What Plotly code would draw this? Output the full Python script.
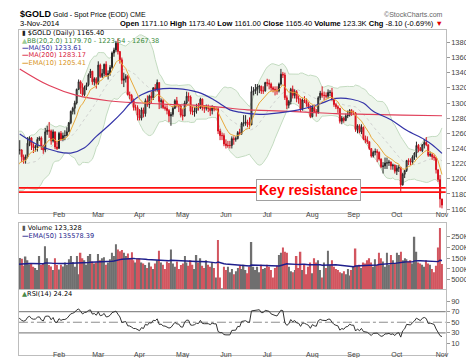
import numpy as np
import pandas as pd
import plotly.graph_objects as go

# ---------------- data ----------------
dates = pd.bdate_range("2014-01-02", "2014-11-03")

dec2013_close = [1221, 1244, 1241, 1227, 1230, 1250, 1261, 1255, 1225, 1235, 1241,
                 1230, 1217, 1193, 1203, 1196, 1204, 1211, 1214, 1203, 1202]

close_jan = [1225, 1238, 1238, 1229, 1225, 1229, 1247, 1254, 1244, 1241, 1242, 1252, 1254, 1242, 1238, 1262, 1264, 1263, 1250, 1262, 1242, 1240]
close_feb = [1260, 1252, 1257, 1257, 1262, 1274, 1289, 1293, 1300, 1318, 1328, 1320, 1311, 1321, 1324, 1337, 1342, 1328, 1332, 1326]
close_mar = [1350, 1335, 1339, 1351, 1337, 1339, 1347, 1366, 1370, 1379, 1368, 1357, 1330, 1332, 1335, 1311, 1310, 1303, 1294, 1294, 1284]
close_apr = [1280, 1291, 1286, 1303, 1298, 1309, 1307, 1320, 1318, 1327, 1302, 1303, 1294, 1293, 1290, 1283, 1285, 1293, 1303, 1297, 1296, 1284]
close_may = [1283, 1300, 1309, 1308, 1289, 1288, 1290, 1295, 1294, 1305, 1294, 1293, 1294, 1293, 1290, 1294, 1292, 1292, 1263, 1257, 1257, 1246]
close_jun = [1244, 1244, 1244, 1253, 1252, 1253, 1261, 1260, 1273, 1274, 1275, 1272, 1271, 1315, 1316, 1318, 1321, 1322, 1316, 1316, 1327]
close_jul = [1326, 1325, 1320, 1318, 1317, 1316, 1325, 1338, 1337, 1307, 1297, 1302, 1318, 1310, 1315, 1306, 1305, 1292, 1304, 1303, 1299, 1295, 1282]
close_aug = [1294, 1289, 1287, 1307, 1313, 1310, 1310, 1309, 1314, 1314, 1305, 1298, 1295, 1293, 1276, 1280, 1277, 1283, 1284, 1290, 1287]
close_sep = [1287, 1265, 1270, 1262, 1268, 1253, 1251, 1249, 1240, 1230, 1235, 1236, 1235, 1226, 1216, 1217, 1221, 1221, 1222, 1217, 1218, 1210]
close_oct = [1214, 1215, 1192, 1206, 1211, 1224, 1223, 1222, 1229, 1234, 1244, 1240, 1237, 1245, 1248, 1245, 1231, 1232, 1229, 1228, 1212, 1199, 1173.5]
close_nov = [1165.4]

high_jan = [1240, 1248, 1251, 1239, 1232, 1232, 1255, 1256, 1255, 1247, 1245, 1255, 1256, 1256, 1245, 1267, 1270, 1275, 1265, 1265, 1262, 1250]
high_feb = [1262, 1263, 1261, 1264, 1268, 1275, 1290, 1295, 1303, 1319, 1331, 1330, 1326, 1323, 1327, 1339, 1345, 1342, 1334, 1334]
high_mar = [1355, 1352, 1345, 1352, 1355, 1343, 1350, 1368, 1373, 1382, 1385, 1364, 1360, 1340, 1338, 1337, 1315, 1312, 1306, 1298, 1297]
high_apr = [1292, 1294, 1294, 1306, 1310, 1311, 1315, 1321, 1325, 1331, 1327, 1306, 1305, 1297, 1297, 1292, 1288, 1296, 1305, 1308, 1299, 1298]
high_may = [1292, 1303, 1315, 1314, 1310, 1296, 1295, 1299, 1300, 1307, 1306, 1296, 1298, 1298, 1295, 1297, 1296, 1294, 1294, 1266, 1261, 1260]
high_jun = [1252, 1250, 1250, 1256, 1256, 1256, 1263, 1266, 1275, 1284, 1284, 1278, 1281, 1322, 1321, 1325, 1325, 1324, 1323, 1322, 1328]
high_jul = [1332, 1331, 1327, 1322, 1322, 1322, 1327, 1345, 1341, 1340, 1310, 1304, 1320, 1323, 1318, 1317, 1310, 1306, 1306, 1309, 1306, 1301, 1297]
high_aug = [1297, 1298, 1292, 1309, 1316, 1322, 1315, 1314, 1318, 1317, 1320, 1307, 1300, 1297, 1293, 1283, 1282, 1286, 1290, 1292, 1292]
high_sep = [1290, 1288, 1272, 1272, 1272, 1269, 1257, 1256, 1249, 1240, 1237, 1240, 1239, 1236, 1227, 1222, 1228, 1228, 1225, 1223, 1220, 1219]
high_oct = [1218, 1218, 1216, 1208, 1211, 1225, 1227, 1227, 1231, 1235, 1249, 1246, 1242, 1246, 1252, 1255, 1244, 1236, 1234, 1232, 1229, 1211, 1205]
high_nov = [1173.4]

low_jan = [1202, 1224, 1232, 1222, 1220, 1220, 1227, 1243, 1238, 1234, 1236, 1236, 1250, 1238, 1233, 1235, 1258, 1254, 1245, 1248, 1239, 1238]
low_feb = [1240, 1250, 1250, 1251, 1256, 1262, 1272, 1285, 1285, 1298, 1317, 1312, 1309, 1309, 1317, 1322, 1333, 1324, 1323, 1319]
low_mar = [1324, 1333, 1333, 1335, 1335, 1331, 1336, 1345, 1361, 1367, 1364, 1352, 1325, 1321, 1327, 1310, 1305, 1300, 1290, 1290, 1277]
low_apr = [1277, 1277, 1281, 1282, 1295, 1293, 1300, 1304, 1315, 1315, 1292, 1293, 1292, 1290, 1285, 1275, 1270, 1282, 1292, 1294, 1288, 1281]
low_may = [1277, 1282, 1298, 1302, 1285, 1284, 1282, 1286, 1290, 1292, 1290, 1287, 1290, 1288, 1283, 1285, 1289, 1290, 1259, 1251, 1251, 1243]
low_jun = [1240, 1241, 1240, 1240, 1245, 1249, 1252, 1258, 1258, 1269, 1270, 1268, 1266, 1273, 1310, 1312, 1310, 1313, 1312, 1312, 1315]
low_jul = [1322, 1318, 1316, 1314, 1310, 1311, 1314, 1323, 1333, 1304, 1292, 1293, 1298, 1306, 1306, 1301, 1299, 1288, 1290, 1300, 1295, 1292, 1280]
low_aug = [1281, 1287, 1282, 1286, 1304, 1307, 1304, 1306, 1306, 1309, 1303, 1295, 1292, 1287, 1273, 1272, 1274, 1276, 1280, 1282, 1283]
low_sep = [1284, 1262, 1260, 1260, 1259, 1251, 1247, 1246, 1238, 1228, 1228, 1231, 1222, 1224, 1214, 1207, 1213, 1213, 1217, 1212, 1212, 1207]
low_oct = [1205, 1209, 1183, 1191, 1201, 1209, 1218, 1218, 1219, 1225, 1228, 1235, 1237, 1235, 1240, 1243, 1229, 1229, 1225, 1224, 1207, 1196, 1162]
low_nov = [1161.0]

vol_jan = [140, 150, 151, 148, 115, 158, 140, 122, 128, 110, 105, 95, 160, 118, 125, 205, 150, 118, 112, 95, 150, 118]
vol_feb = [98, 120, 112, 130, 118, 145, 160, 132, 110, 160, 75, 175, 150, 140, 120, 160, 170, 135, 125, 130]
vol_mar = [170, 140, 150, 155, 120, 130, 145, 175, 160, 215, 190, 182, 188, 175, 160, 172, 150, 178, 140, 130, 150]
vol_apr = [150, 130, 125, 118, 105, 130, 112, 100, 125, 140, 185, 130, 120, 100, 135, 128, 190, 125, 110, 135, 100, 118]
vol_may = [125, 160, 130, 115, 140, 120, 100, 165, 130, 150, 115, 105, 140, 120, 110, 130, 105, 60, 235, 60, 10, 110]
vol_jun = [95, 110, 85, 100, 75, 90, 105, 115, 100, 120, 95, 80, 110, 225, 110, 95, 110, 85, 120, 100, 105]
vol_jul = [120, 110, 95, 60, 105, 115, 165, 175, 200, 180, 175, 110, 90, 85, 95, 160, 105, 180, 95, 120, 75, 110, 130]
vol_aug = [80, 150, 130, 140, 95, 60, 130, 105, 185, 120, 140, 110, 100, 95, 85, 80, 90, 75, 100, 70, 95]
vol_sep = [110, 195, 115, 120, 105, 130, 125, 140, 150, 130, 110, 145, 120, 175, 150, 135, 110, 175, 120, 165, 140, 125]
vol_oct = [175, 165, 180, 140, 150, 145, 135, 140, 125, 250, 180, 130, 125, 120, 110, 140, 125, 120, 100, 85, 115, 200, 290]
vol_nov = [123.328]
vol_ema_seed_k = 121

# moving averages (trading-day index, value)
ma50_day = [2, 11, 21, 28, 35, 41, 48, 55, 58, 64, 72, 82, 93, 101, 104, 109, 114, 124, 134, 144, 154, 163, 171, 177, 182, 191, 199, 208, 212, 217]
ma50_value = [1259, 1245, 1236, 1234, 1241, 1256, 1272, 1290, 1299, 1311, 1318, 1319, 1314, 1304, 1299, 1291, 1288, 1285, 1287, 1291, 1298, 1306, 1305, 1300, 1289, 1278, 1264, 1252, 1245, 1233.61]
ma200_day = [2, 17, 31, 47, 64, 81, 98, 118, 129, 147, 163, 180, 197, 217]
ma200_value = [1345, 1323, 1310, 1303, 1300, 1298, 1296, 1291, 1290, 1288, 1286, 1285, 1284, 1283.17]

resistance_levels = [1188, 1182.5]
rsi_solid_levels = [70, 30]
rsi_mid_level = [50]

price_ticks = list(range(1160, 1381, 20))
vol_tick_vals = [50000, 100000, 150000, 200000, 250000]
vol_tick_text = ["50000", "100K", "150K", "200K", "250K"]
rsi_ticks = [10, 30, 50, 70, 90]
month_labels = ["Feb", "Mar", "Apr", "May", "Jun", "Jul", "Aug", "Sep", "Oct", "Nov"]

# ---------------- assemble ----------------
close = close_jan + close_feb + close_mar + close_apr + close_may + close_jun + close_jul + close_aug + close_sep + close_oct + close_nov
high = high_jan + high_feb + high_mar + high_apr + high_may + high_jun + high_jul + high_aug + high_sep + high_oct + high_nov
low = low_jan + low_feb + low_mar + low_apr + low_may + low_jun + low_jul + low_aug + low_sep + low_oct + low_nov
vol_k = vol_jan + vol_feb + vol_mar + vol_apr + vol_may + vol_jun + vol_jul + vol_aug + vol_sep + vol_oct + vol_nov
n = len(close)
assert n == len(dates) == len(high) == len(low) == len(vol_k), (n, len(dates), len(high), len(low), len(vol_k))

x = list(range(n))
opens = [dec2013_close[-1]] + close[:-1]
high = [max(h, o, c) for h, o, c in zip(high, opens, close)]
low = [min(l, o, c) for l, o, c in zip(low, opens, close)]

allc = np.array(dec2013_close + close, dtype=float)
nw = len(dec2013_close)
bb_mid, bb_up, bb_lo = [], [], []
for j in range(nw, len(allc)):
    w = allc[j - 19:j + 1]
    m, s = w.mean(), w.std()
    bb_mid.append(m); bb_up.append(m + 2 * s); bb_lo.append(m - 2 * s)
ema = [allc[0]]
a = 2 / 11
for v in allc[1:]:
    ema.append(ema[-1] + a * (v - ema[-1]))
ema10 = ema[nw:]
d = np.diff(allc)
g = np.clip(d, 0, None); ls = np.clip(-d, 0, None)
ag, al = g[:14].mean(), ls[:14].mean()
rsi_all = [np.nan] * 15
for k in range(14, len(d)):
    ag = (ag * 13 + g[k]) / 14
    al = (al * 13 + ls[k]) / 14
    rsi_all.append(100 - 100 / (1 + ag / al) if al > 0 else 100)
rsi = rsi_all[nw:]
vol = [v * 1000 for v in vol_k]
vema = [vol_ema_seed_k * 1000]
b = 2 / 51
for v in vol[1:]:
    vema.append(vema[-1] + b * (v - vema[-1]))
prev = [dec2013_close[-1]] + close[:-1]
vol_colors = ["#d2555f" if c < p else "#6f6f6f" for c, p in zip(close, prev)]

month_pos = []
for mi in range(2, 12):
    idxs = [i for i, dt in enumerate(dates) if dt.month == mi]
    month_pos.append(idxs[0])

# ---------------- figure ----------------
fig = go.Figure()
fig.add_trace(go.Scatter(x=x, y=bb_lo, mode="lines", line=dict(color="#c3dbc0", width=1), xaxis="x", yaxis="y", hoverinfo="skip"))
fig.add_trace(go.Scatter(x=x, y=bb_up, mode="lines", line=dict(color="#c3dbc0", width=1), fill="tonexty",
                         fillcolor="#eef5ec", xaxis="x", yaxis="y", hoverinfo="skip"))
fig.add_trace(go.Scatter(x=x, y=bb_mid, mode="lines", line=dict(color="#c8c8c8", width=0.8, dash="dot"), xaxis="x", yaxis="y"))
fig.add_trace(go.Candlestick(x=x, open=opens, high=high, low=low, close=close,
                             increasing=dict(line=dict(color="#262626", width=1), fillcolor="#8a8a8a"),
                             decreasing=dict(line=dict(color="#d8101e", width=1), fillcolor="#e3202c"),
                             whiskerwidth=0, xaxis="x", yaxis="y4"))
fig.add_trace(go.Scatter(x=ma200_day, y=ma200_value, mode="lines", line=dict(color="#e0405a", width=1.2, shape="spline"), xaxis="x", yaxis="y5"))
fig.add_trace(go.Scatter(x=ma50_day, y=ma50_value, mode="lines", line=dict(color="#3434a8", width=1.2, shape="spline"), xaxis="x", yaxis="y5"))
fig.add_trace(go.Scatter(x=x, y=ema10, mode="lines", line=dict(color="#e8a83a", width=1), xaxis="x", yaxis="y5"))
fig.add_trace(go.Bar(x=x, y=vol, marker=dict(color=vol_colors, line=dict(width=0)), xaxis="x2", yaxis="y2"))
fig.add_trace(go.Scatter(x=x, y=vema, mode="lines", line=dict(color="#1e1e8c", width=1.4), xaxis="x2", yaxis="y2"))
fig.add_trace(go.Scatter(x=x, y=rsi, mode="lines", line=dict(color="#333333", width=1), xaxis="x3", yaxis="y3"))
# carriers for the two free month-label axes
fig.add_trace(go.Scatter(x=[None], y=[None], mode="lines", xaxis="x4", yaxis="y", hoverinfo="skip"))
fig.add_trace(go.Scatter(x=[None], y=[None], mode="lines", xaxis="x5", yaxis="y3", hoverinfo="skip"))

H = 358.0
W = 474.0
def py(v):
    return 1 - v / H
def px(v):
    return v / W

xr = [1.6, 218.9]
xdom = [px(11), px(440.5)]
dom_main = [py(205.5), py(22)]
dom_vol = [py(282), py(215.5)]
dom_rsi = [py(348.4), py(282.8)]
AX = dict(showgrid=False, zeroline=False, showline=True, mirror=True, linecolor="#bdbdbd", linewidth=1)
TF = dict(family="Liberation Sans, Arial", size=7.5, color="#444")
TFX = dict(family="Liberation Sans, Arial", size=7, color="#444")
MONTH_AX = dict(range=xr, tickvals=month_pos, ticktext=month_labels, ticks="", tickfont=TFX,
                showline=False, showgrid=False, zeroline=False, anchor="free")

main_range = [1155, 1396.4]
fig.update_layout(
    width=474, height=358, margin=dict(l=0, r=0, t=0, b=0),
    paper_bgcolor="white", plot_bgcolor="white", showlegend=False, bargap=0.25,
    xaxis=dict(domain=xdom, range=xr, anchor="y", showticklabels=False, ticks="",
               rangeslider=dict(visible=False), **AX),
    xaxis2=dict(domain=xdom, range=xr, anchor="y2", matches="x", showticklabels=False, ticks="", **AX),
    xaxis3=dict(domain=xdom, range=xr, anchor="y3", matches="x", showticklabels=False, ticks="", **AX),
    xaxis4=dict(domain=xdom, overlaying="x", position=py(201.5), **MONTH_AX),
    xaxis5=dict(domain=xdom, overlaying="x3", position=py(342.3), **MONTH_AX),
    yaxis=dict(domain=dom_main, range=main_range, side="right", anchor="x", tickvals=price_ticks,
               ticks="outside", ticklen=3, tickcolor="#999", tickfont=TF, **AX),
    yaxis4=dict(range=main_range, overlaying="y", anchor="x", visible=False),
    yaxis5=dict(range=main_range, overlaying="y", anchor="x", visible=False),
    yaxis2=dict(domain=dom_vol, range=[6000, 314000], side="right", anchor="x2", tickvals=vol_tick_vals,
                ticktext=vol_tick_text, ticks="outside", ticklen=3, tickcolor="#999", tickfont=TF, **AX),
    yaxis3=dict(domain=dom_rsi, range=[-12.5, 110.7], side="right", anchor="x3", tickvals=rsi_ticks,
                ticks="outside", ticklen=3, tickcolor="#999", tickfont=TF, **AX),
)

shapes = []
for lv in resistance_levels:
    shapes.append(dict(type="line", xref="x domain", yref="y", x0=0, x1=1, y0=lv, y1=lv,
                       line=dict(color="#ff1010", width=1.8)))
for lv in rsi_solid_levels:
    shapes.append(dict(type="line", xref="x3 domain", yref="y3", x0=0, x1=1, y0=lv, y1=lv,
                       line=dict(color="#8c8c8c", width=1.2), layer="below"))
for lv in rsi_mid_level:
    shapes.append(dict(type="line", xref="x3 domain", yref="y3", x0=0, x1=1, y0=lv, y1=lv,
                       line=dict(color="#8c8c8c", width=1, dash="dashdot"), layer="below"))
fig.update_layout(shapes=shapes)

SANS = "Liberation Sans, Arial"
LEG = "DejaVu Sans"
def note(xp, yp, text, size, color="#000", family=SANS, anchor="left"):
    fig.add_annotation(x=px(xp), y=py(yp), xref="paper", yref="paper", text=text, showarrow=False,
                       xanchor=anchor, yanchor="middle", font=dict(family=family, size=size, color=color))

note(10, 6.5, "<b>$GOLD</b>", 9)
note(43, 7, "Gold - Spot Price (EOD) CME", 7)
note(440, 6.5, "©StockCharts.com", 7, "#666", anchor="right")
note(10, 16, "3-Nov-2014", 7.5)
note(440, 16, "<b>Open</b> 1171.10 <b>High</b> 1173.40 <b>Low</b> 1161.00 <b>Close</b> 1165.40 "
              "<b>Volume</b> 123.3K <b>Chg</b> -8.10 (-0.69%) <span style='color:#e00000'>▼</span>", 7.5, anchor="right")

LS = 6.6
note(12, 25.5, "<span style='color:#222'>▮</span> $GOLD (Daily) 1165.40", LS, "#000", LEG)
note(12, 32.8, "<span style='color:#9ccc96'>▲</span>BB(20,2.0) 1179.70 - 1223.54 - 1267.38", LS, "#3a8a3a", LEG)
note(12, 40.1, "<b>—</b>MA(50) 1233.61", LS, "#2c2ca0", LEG)
note(12, 47.4, "<b>—</b>MA(200) 1283.17", LS, "#d8203c", LEG)
note(12, 54.7, "<b>—</b>EMA(10) 1205.41", LS, "#d8941c", LEG)

note(12, 221, "<span style='color:#555'>▮</span> Volume 123,328", LS, "#000", LEG)
note(12, 228.8, "<b>—</b>EMA(50) 135578.39", LS, "#1e1e8c", LEG)
note(12, 287, "<span style='color:#4a8a4a'>▲</span>RSI(14) 24.24", LS, "#000", LEG)

fig.add_annotation(x=px(302), y=py(183), xref="paper", yref="paper", text="<b>Key resistance</b>",
                   showarrow=False, xanchor="center", yanchor="middle",
                   font=dict(family=SANS, size=14, color="#ff0000"),
                   bgcolor="white", bordercolor="#a0a0a0", borderwidth=1, borderpad=2)

fig.write_html("out.html")
